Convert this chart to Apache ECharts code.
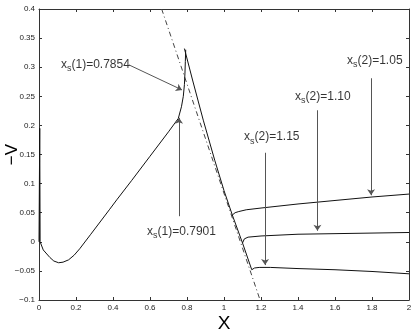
<!DOCTYPE html>
<html>
<head>
<meta charset="utf-8">
<script src="https://cdn.jsdelivr.net/npm/echarts@6/dist/echarts.min.js"></script>
<style>
  html, body { margin: 0; padding: 0; background: #fff; }
  #chart { width: 415px; height: 333px; }
</style>
</head>
<body>
<div id="chart"></div>
<script>
// main branch (x_s(1))
const mainX = [0, 0.004, 0.006, 0.023, 0.059, 0.08, 0.106, 0.13, 0.16, 0.19, 0.22, 0.28, 0.33, 0.38, 0.42, 0.5, 0.6, 0.7, 0.753, 0.77, 0.78, 0.786, 0.789, 0.791, 0.793]
const mainY = [0, 0.195, 0.0, -0.014, -0.027, -0.033, -0.036, -0.035, -0.031, -0.023, -0.012, 0.013, 0.034, 0.055, 0.072, 0.105, 0.147, 0.189, 0.212, 0.232, 0.25, 0.27, 0.29, 0.31, 0.33]

// steep solid branch
const steepX = [0.786, 0.83, 0.888, 0.95, 1.0, 1.045, 1.1, 1.15]
const steepY = [0.332, 0.278, 0.209, 0.14, 0.088, 0.046, -0.002, -0.048]

// dash-dot asymptote
const dashX = [0.663, 1.195]
const dashY = [0.4, -0.1]

// x_s(2) branches
const b105X = [1.045, 1.06, 1.08, 1.12, 1.2, 1.4, 1.6, 1.8, 2.0]
const b105Y = [0.046, 0.05, 0.052, 0.055, 0.058, 0.065, 0.071, 0.077, 0.082]
const b110X = [1.1, 1.11, 1.13, 1.2, 1.4, 1.6, 1.8, 2.0]
const b110Y = [-0.002, 0.005, 0.008, 0.010, 0.013, 0.014, 0.015, 0.016]
const b115X = [1.15, 1.165, 1.19, 1.25, 1.4, 1.6, 1.8, 2.0]
const b115Y = [-0.048, -0.045, -0.044, -0.044, -0.046, -0.048, -0.051, -0.055]

// annotations
const noteText = ['{a|x}{s|s}{a|(1)=0.7854}', '{a|x}{s|s}{a|(1)=0.7901}', '{a|x}{s|s}{a|(2)=1.15}', '{a|x}{s|s}{a|(2)=1.10}', '{a|x}{s|s}{a|(2)=1.05}']
const noteX = [0.119, 0.584, 1.108, 1.384, 1.665]
const noteY = [0.305, 0.017, 0.180, 0.249, 0.312]
const arrowFrom = [[0.486, 0.304], [0.757, 0.044], [1.222, 0.153], [1.505, 0.226], [1.795, 0.281]]
const arrowTo = [[0.773, 0.261], [0.757, 0.213], [1.222, -0.040], [1.505, 0.019], [1.795, 0.080]]

const xTicks = [0, 0.2, 0.4, 0.6, 0.8, 1, 1.2, 1.4, 1.6, 1.8, 2]
const yTicks = [-0.1, -0.05, 0, 0.05, 0.1, 0.15, 0.2, 0.25, 0.3, 0.35, 0.4]

const zip = (xs, ys) => xs.map((x, i) => [x, ys[i]])
const font = 'Liberation Sans'
const axisCol = '#333'

const chart = echarts.init(document.getElementById('chart'))

const solid = (data) => ({
  type: 'line', data: data, showSymbol: false, symbol: 'none', smooth: false,
  lineStyle: {color: '#111', width: 1}, animation: false, z: 3
})

const baseX = {
  type: 'value', min: 0, max: 2, interval: 0.2,
  axisLine: {onZero: false, lineStyle: {color: axisCol, width: 1}},
  axisTick: {inside: true, length: 3, lineStyle: {color: axisCol}},
  splitLine: {show: false}
}
const baseY = {
  type: 'value', min: -0.1, max: 0.4, interval: 0.05,
  axisLine: {onZero: false, lineStyle: {color: axisCol, width: 1}},
  axisTick: {inside: true, length: 3, lineStyle: {color: axisCol}},
  splitLine: {show: false}
}

chart.setOption({
  animation: false,
  grid: {left: 39, right: 6, top: 9, bottom: 33, containLabel: false, outerBoundsMode: 'none'},
  xAxis: [
    Object.assign({}, baseX, {
      position: 'bottom',
      name: 'X', nameLocation: 'middle', nameGap: 14, nameMoveOverlap: false,
      nameTextStyle: {fontFamily: font, fontSize: 19, color: '#000', verticalAlign: 'top'},
      axisLabel: {
        fontFamily: font, fontSize: 8, color: '#222', margin: 4,
        formatter: v => xTicks.includes(+v.toFixed(2)) ? String(+v.toFixed(2)) : ''
      }
    }),
    Object.assign({}, baseX, {position: 'top', axisLabel: {show: false}})
  ],
  yAxis: [
    Object.assign({}, baseY, {
      position: 'left',
      name: '\u2212V', nameLocation: 'middle', nameGap: 18, nameRotate: 90, nameMoveOverlap: false,
      nameTextStyle: {fontFamily: font, fontSize: 17, color: '#000'},
      axisLabel: {
        fontFamily: font, fontSize: 8, color: '#222', margin: 4,
        formatter: v => {
          const r = +v.toFixed(2)
          if (!yTicks.includes(r)) return ''
          return r < 0 ? '\u2212' + String(-r) : String(r)
        }
      }
    }),
    Object.assign({}, baseY, {position: 'right', axisLabel: {show: false}})
  ],
  series: [
    solid(zip(mainX, mainY)),
    solid(zip(steepX, steepY)),
    {
      type: 'line', data: zip(dashX, dashY), showSymbol: false, symbol: 'none',
      lineStyle: {color: '#444', width: 1, type: [5, 3, 1, 3]}, z: 2
    },
    solid(zip(b105X, b105Y)),
    solid(zip(b110X, b110Y)),
    solid(zip(b115X, b115Y)),
    {
      type: 'lines', coordinateSystem: 'cartesian2d', z: 4,
      symbol: ['none', 'arrow'], symbolSize: [0, 6],
      lineStyle: {color: '#555', width: 1, opacity: 1},
      data: arrowFrom.map((p, i) => ({coords: [p, arrowTo[i]]}))
    },
    {
      type: 'scatter', symbolSize: 0, z: 5,
      data: noteX.map((x, i) => ({value: [x, noteY[i]], text: noteText[i]})),
      label: {
        show: true, position: 'right', distance: 0,
        formatter: p => p.data.text,
        rich: {
          a: {fontFamily: font, fontSize: 12, color: '#000'},
          s: {fontFamily: font, fontSize: 9, color: '#000', padding: [8, 0, 0, 0]}
        }
      }
    }
  ]
})
</script>
</body>
</html>
